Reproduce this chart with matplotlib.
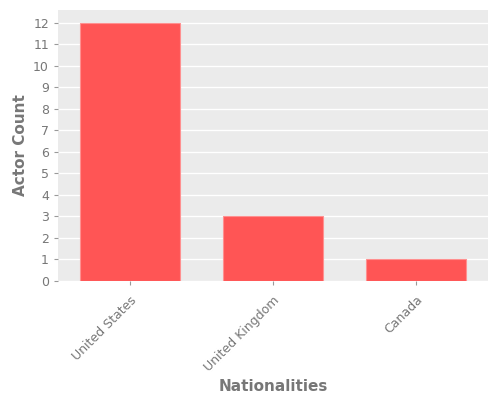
import matplotlib.pyplot as plt

nationalities = ["United States", "United Kingdom", "Canada"]
counts = [12, 3, 1]

fig = plt.figure(figsize=(5, 4), dpi=100)
ax = fig.add_axes([0.116, 0.2975, 0.86, 0.6775])
ax.set_facecolor("#EBEBEB")
ax.bar(range(len(counts)), counts, width=0.7, color="#FF5555", edgecolor="#FF9090", linewidth=0.8, zorder=3)
ax.set_xlim(-0.5, 2.5)
ax.set_ylim(0, 12.6)
ax.set_yticks(range(0, 13))
ax.set_xticks(range(len(nationalities)))
ax.set_xticklabels(nationalities, rotation=45, ha="right", rotation_mode="anchor")
ax.grid(axis="y", color="white", linewidth=1, zorder=0)
for s in ax.spines.values():
    s.set_visible(False)
ax.tick_params(colors="#999999", labelcolor="#777777", labelsize=9, length=3)
ax.tick_params(axis="x", pad=6)
ax.set_xlabel("Nationalities", color="#777777", fontsize=11, fontweight="bold", labelpad=4)
ax.set_ylabel("Actor Count", color="#777777", fontsize=11, fontweight="bold")
fig.savefig("out.png", dpi=100)
